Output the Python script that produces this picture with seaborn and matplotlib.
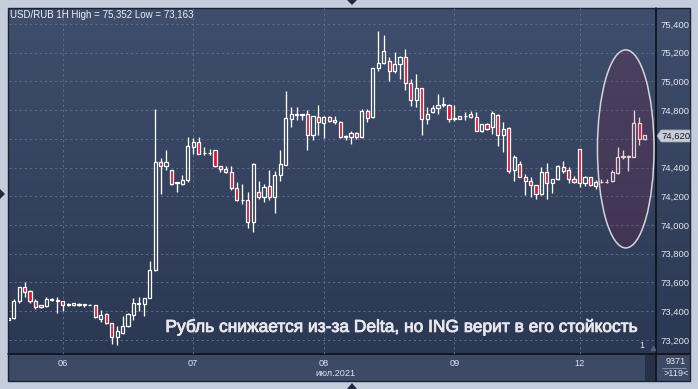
import numpy as np
import matplotlib
matplotlib.use("Agg")
import matplotlib.pyplot as plt
import matplotlib.colors as mcolors
import matplotlib.patheffects as pe
from matplotlib.patches import Ellipse, Polygon, Rectangle
import seaborn as sns

# ---------------- data (hourly candles, USD/RUB) ----------------
opens = [73.340, 73.350, 73.470, 73.566, 73.540, 73.473, 73.430, 73.436, 73.480, 73.475,
         73.470, 73.446, 73.441, 73.444, 73.441, 73.444, 73.441, 73.348, 73.380, 73.316,
         73.222, 73.250, 73.297, 73.375, 73.453, 73.448, 73.494, 73.685, 74.440, 74.413,
         74.380, 74.296, 74.288, 74.312, 74.540, 74.577, 74.498, 74.498, 74.520, 74.410,
         74.390, 74.372, 74.260, 74.172, 74.172, 74.023, 74.230, 74.197, 74.272, 74.197,
         74.345, 74.420, 74.737, 74.766, 74.766, 74.773, 74.629, 74.750, 74.713, 74.755,
         74.732, 74.718, 74.613, 74.611, 74.639, 74.611, 74.792, 74.750, 75.090, 75.126,
         75.140, 75.070, 75.120, 75.168, 74.987, 74.870, 74.954, 74.740, 74.790, 74.815,
         74.838, 74.838, 74.738, 74.740, 74.756, 74.755, 74.755, 74.657, 74.700, 74.680,
         74.768, 74.625, 74.676, 74.383, 74.425, 74.337, 74.309, 74.277, 74.216, 74.370,
         74.291, 74.318, 74.406, 74.383, 74.318, 74.527, 74.295, 74.333, 74.270, 74.300,
         74.300, 74.304, 74.360, 74.474, 74.474, 74.476, 74.709, 74.597]
highs = [73.355, 73.487, 73.571, 73.600, 73.545, 73.483, 73.445, 73.500, 73.490, 73.497,
         73.472, 73.455, 73.455, 73.458, 73.452, 73.448, 73.445, 73.410, 73.385, 73.320,
         73.300, 73.367, 73.390, 73.494, 73.500, 73.494, 73.750, 74.810, 74.470, 74.525,
         74.385, 74.300, 74.350, 74.613, 74.605, 74.610, 74.540, 74.530, 74.525, 74.412,
         74.412, 74.410, 74.300, 74.284, 74.228, 74.432, 74.305, 74.286, 74.383, 74.378,
         74.523, 74.935, 74.820, 74.820, 74.775, 74.800, 74.762, 74.834, 74.760, 74.760,
         74.760, 74.722, 74.627, 74.657, 74.650, 74.810, 74.806, 75.096, 75.352, 75.325,
         75.172, 75.205, 75.177, 75.224, 75.015, 75.052, 74.956, 74.820, 74.834, 74.912,
         74.889, 74.840, 74.834, 74.762, 74.790, 74.795, 74.790, 74.705, 74.709, 74.796,
         74.770, 74.718, 74.685, 74.486, 74.448, 74.356, 74.333, 74.280, 74.402, 74.430,
         74.320, 74.415, 74.448, 74.402, 74.342, 74.530, 74.342, 74.335, 74.314, 74.318,
         74.318, 74.384, 74.541, 74.520, 74.490, 74.801, 74.750, 74.628]
lows = [73.338, 73.345, 73.455, 73.500, 73.460, 73.417, 73.420, 73.430, 73.470, 73.386,
        73.400, 73.438, 73.438, 73.438, 73.427, 73.442, 73.353, 73.325, 73.310, 73.172,
        73.163, 73.240, 73.290, 73.337, 73.400, 73.370, 73.490, 73.680, 74.218, 74.385,
        74.280, 74.228, 74.280, 74.302, 74.497, 74.495, 74.490, 74.490, 74.405, 74.370,
        74.360, 74.242, 74.165, 74.145, 73.980, 73.950, 74.183, 74.160, 74.174, 74.086,
        74.309, 74.418, 74.685, 74.730, 74.730, 74.523, 74.592, 74.630, 74.606, 74.720,
        74.704, 74.605, 74.595, 74.564, 74.600, 74.608, 74.718, 74.748, 75.075, 75.120,
        75.005, 75.057, 75.015, 74.940, 74.829, 74.820, 74.629, 74.700, 74.782, 74.773,
        74.820, 74.720, 74.727, 74.738, 74.730, 74.745, 74.657, 74.648, 74.664, 74.634,
        74.550, 74.509, 74.364, 74.304, 74.333, 74.207, 74.197, 74.179, 74.207, 74.180,
        74.225, 74.315, 74.360, 74.295, 74.290, 74.267, 74.270, 74.275, 74.249, 74.290,
        74.290, 74.300, 74.355, 74.458, 74.374, 74.474, 74.559, 74.590]
closes = [73.350, 73.473, 73.566, 73.534, 73.473, 73.430, 73.440, 73.483, 73.485, 73.472,
          73.446, 73.449, 73.454, 73.453, 73.450, 73.446, 73.362, 73.372, 73.316, 73.222,
          73.260, 73.300, 73.380, 73.455, 73.457, 73.490, 73.685, 74.440, 74.413, 74.437,
          74.288, 74.300, 74.316, 74.553, 74.577, 74.497, 74.502, 74.502, 74.410, 74.390,
          74.367, 74.256, 74.172, 74.175, 74.023, 74.423, 74.197, 74.267, 74.197, 74.346,
          74.425, 74.745, 74.773, 74.770, 74.770, 74.629, 74.760, 74.720, 74.755, 74.727,
          74.718, 74.611, 74.617, 74.639, 74.611, 74.792, 74.745, 75.094, 75.126, 75.210,
          75.070, 75.120, 75.172, 74.987, 74.871, 74.954, 74.740, 74.773, 74.815, 74.837,
          74.842, 74.740, 74.742, 74.760, 74.760, 74.773, 74.657, 74.700, 74.670, 74.778,
          74.629, 74.671, 74.374, 74.476, 74.337, 74.305, 74.277, 74.216, 74.370, 74.291,
          74.318, 74.411, 74.378, 74.318, 74.300, 74.295, 74.333, 74.277, 74.300, 74.303,
          74.303, 74.370, 74.472, 74.478, 74.478, 74.709, 74.597, 74.625]

day_ticks = [10, 34, 58, 82, 105]
day_labels = ["06", "07", "08", "09", "12"]
price_ticks = [73.2, 73.4, 73.6, 73.8, 74.0, 74.2, 74.4, 74.6, 74.8, 75.0, 75.2, 75.4]
price_labels = ["73,200", "73,400", "73,600", "73,800", "74,000", "74,200", "74,400",
                "", "74,800", "75,000", "75,200", "75,400"]
last_price = 74.620
last_label = "74,620"
title_text = "USD/RUB 1H High = 75,352 Low = 73,163"
headline = "Рубль снижается из-за Delta, но ING верит в его стойкость"
month_label = "июл.2021"
bars_total = "9371"
bars_visible = ">119<"
pane_label = "1"

# ---------------- style ----------------
sns.set_theme(style="dark")
plt.rcParams["font.family"] = ["Liberation Sans", "DejaVu Sans"]

W, H = 698, 389
fig = plt.figure(figsize=(W / 100, H / 100), dpi=100)
fig.patch.set_facecolor("#c4cddb")

# background / decoration axes in pixel coordinates
bg = fig.add_axes([0, 0, 1, 1])
bg.set_xlim(0, W)
bg.set_ylim(H, 0)
bg.axis("off")

top_col = np.array(mcolors.to_rgb("#3f4e6c"))
bot_col = np.array(mcolors.to_rgb("#2b3853"))
t = np.linspace(0, 1, 256)[:, None]
grad = (top_col[None, :] * (1 - t) + bot_col[None, :] * t)[:, None, :]
bg.imshow(grad, extent=[8, 690, 354, 8], aspect="auto", zorder=0, interpolation="bilinear")
bg.add_patch(Rectangle((8, 354), 682, 27, facecolor="#3c4a66", edgecolor="none", zorder=1))
bg.add_patch(Rectangle((645, 355), 10, 26, facecolor="#27324a", edgecolor="none", zorder=2))
bg.plot([656, 656], [8, 381], color="#0d1118", lw=1.2, zorder=3)
bg.plot([8, 690], [354, 354], color="#0d1118", lw=1.2, zorder=3)
bg.add_patch(Rectangle((8, 8), 682, 373, facecolor="none", edgecolor="#1a2233", lw=1.0, zorder=3))
bg.plot([662, 686], [368, 368], color="#8d98ad", lw=0.6, zorder=3)
bg.text(676, 361.5, bars_total, color="#e4e8f0", fontsize=6.6, ha="center", va="center", zorder=4)
bg.text(676, 374, bars_visible, color="#e4e8f0", fontsize=6.6, ha="center", va="center", zorder=4)
# navigation arrows around the frame
bg.add_patch(Polygon([(347, 0), (357, 0), (352, 5)], closed=True, facecolor="#1f2a3e", edgecolor="none"))
bg.add_patch(Polygon([(347, 389), (357, 389), (352, 383)], closed=True, facecolor="#1f2a3e", edgecolor="none"))
bg.add_patch(Polygon([(0, 189), (0, 199), (5, 194)], closed=True, facecolor="#1f2a3e", edgecolor="none"))

# ---------------- main chart axes ----------------
L, R, T, B = 8.5, 655.5, 8.0, 354.0
ax = fig.add_axes([L / W, 1 - B / H, (R - L) / W, (B - T) / H])
ax.set_facecolor("none")
for s in ax.spines.values():
    s.set_visible(False)

n = len(opens)
x = np.arange(n)
o = np.array(opens)
c = np.array(closes)
h = np.array(highs)
l = np.array(lows)
up = c >= o
top = np.maximum(o, c)
bot = np.minimum(o, c)
hgt = np.maximum(top - bot, 0.0015)

ax.vlines(x, top, h, color="white", lw=0.95, zorder=3)
ax.vlines(x, l, bot, color="white", lw=0.95, zorder=3)
ax.bar(x[up], hgt[up], bottom=bot[up], width=0.58, facecolor="none",
       edgecolor="white", linewidth=0.9, zorder=4)
ax.bar(x[~up], hgt[~up], bottom=bot[~up], width=0.58, facecolor="#e3112e",
       edgecolor="white", linewidth=0.9, zorder=4)

ax.set_xlim(0.04, 118.97)
ax.set_ylim(73.102, 75.511)

ax.set_xticks(day_ticks)
ax.set_xticklabels(day_labels)
ax.set_yticks(price_ticks)
ax.set_yticklabels(price_labels)
ax.yaxis.tick_right()
ax.tick_params(axis="y", length=0, pad=3.3, labelsize=6.8, labelcolor="#e2e6ee")
ax.tick_params(axis="x", length=0, pad=3.5, labelsize=6.6, labelcolor="#e2e6ee")
ax.grid(True, color="#5e6e8e", lw=0.7, linestyle=(0, (2.2, 3.0)), zorder=1)

# highlighted ellipse over the last session
ell = Ellipse((113.5, 74.53), 10.4, 1.379, facecolor=(0.55, 0.05, 0.2, 0.18),
              edgecolor="#d4d4dc", lw=1.1, zorder=6)
ax.add_patch(ell)

# last price marker on the price scale
ytr = ax.get_yaxis_transform()
d = 0.042
ax.add_patch(Polygon([(1.0023, last_price), (1.0085, last_price + d), (1.0533, last_price + d),
                      (1.0533, last_price - d), (1.0085, last_price - d)], closed=True,
                     transform=ytr, facecolor="#c8ced8", edgecolor="#9aa3b3", lw=0.5,
                     clip_on=False, zorder=7))
ax.text(1.0095, last_price, last_label, transform=ytr, color="#1a1a1a", fontsize=6.8,
        ha="left", va="center", clip_on=False, zorder=8)

# texts
ax.text(0.0023, 0.98, title_text, transform=ax.transAxes, color="#eef0f5", fontsize=7.0,
        ha="left", va="center", zorder=8)
ax.text(60.2, -0.055, month_label, transform=ax.get_xaxis_transform(), color="#e2e6ee",
        fontsize=6.6, ha="center", va="center", clip_on=False)
ax.text(72.4, 73.29, headline, color="#e8e8ec", fontsize=12.5, ha="center", va="center", zorder=8,
        path_effects=[pe.withStroke(linewidth=0.6, foreground="#e8e8ec")])
ax.text(0.9795, 0.012, pane_label, transform=ax.transAxes, color="#dfe3ea", fontsize=6.6,
        ha="center", va="bottom", zorder=8)
ax.plot([0.9965], [0.018], transform=ax.transAxes, marker="^", ms=3, color="#55607a",
        clip_on=False, zorder=8)

fig.savefig("out.png", dpi=100, facecolor=fig.get_facecolor())
